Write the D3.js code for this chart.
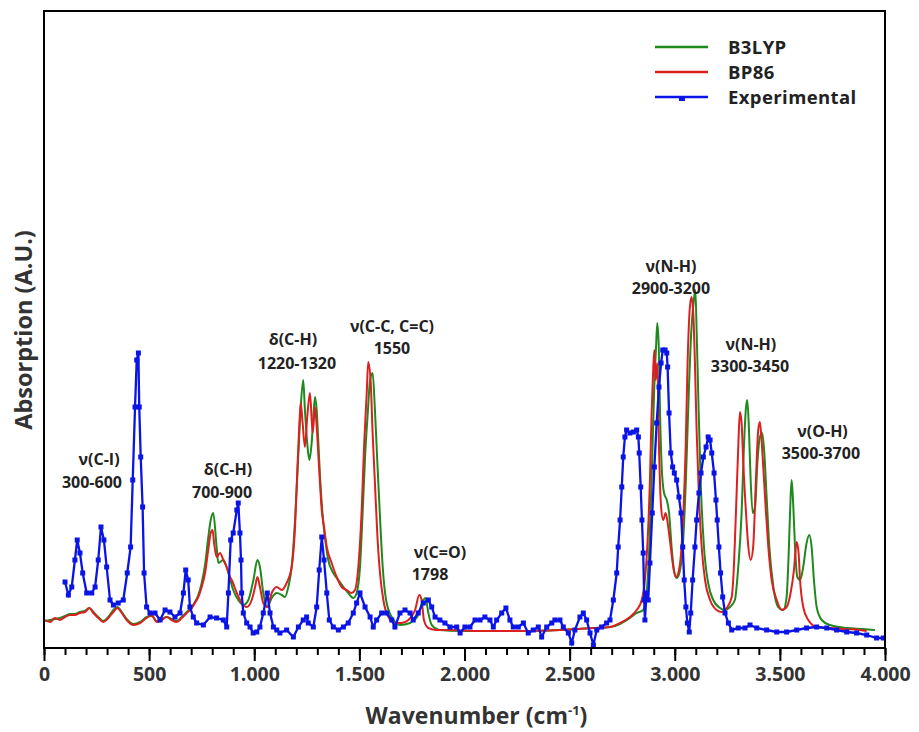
<!DOCTYPE html>
<html>
<head>
<meta charset="utf-8">
<style>
    body { margin: 0; background: #fff; }
    svg { display: block; font-family: 'Open Sans', sans-serif; font-weight: bold; }
</style>
</head>
<body>
<svg id="chart" width="919" height="732"></svg>

<script src="https://d3js.org/d3.v7.min.js"></script>
<script>

// B3LYP (calculated)
let b3lypX = [5, 29, 52, 76, 100, 124, 147, 171, 195, 215, 235, 258, 282, 306, 330, 349, 370, 393, 425, 457, 488, 512, 536, 560, 584, 607, 631, 655, 679, 703, 718, 734, 750, 766, 781, 793, 805, 821, 829, 853, 877, 900, 924, 948, 972, 996, 1015, 1027, 1043, 1062, 1083, 1107, 1131, 1146, 1162, 1178, 1194, 1210, 1221, 1233, 1241, 1252, 1262, 1273, 1281, 1289, 1297, 1305, 1313, 1326, 1336, 1352, 1376, 1400, 1424, 1447, 1471, 1487, 1503, 1516, 1528, 1540, 1551, 1563, 1574, 1585, 1598, 1611, 1627, 1654, 1693, 1741, 1775, 1804, 1815, 1828, 1844, 1883, 1979, 2264, 2454, 2611, 2692, 2740, 2787, 2819, 2850, 2866, 2879, 2890, 2901, 2911, 2917, 2924, 2930, 2938, 2949, 2962, 2973, 2985, 2996, 3009, 3022, 3038, 3053, 3066, 3079, 3091, 3098, 3104, 3112, 3123, 3139, 3159, 3183, 3215, 3239, 3263, 3286, 3302, 3318, 3329, 3339, 3345, 3353, 3361, 3371, 3382, 3393, 3405, 3416, 3426, 3437, 3450, 3469, 3492, 3516, 3532, 3543, 3551, 3556, 3564, 3572, 3583, 3596, 3611, 3627, 3640, 3651, 3662, 3675, 3699, 3738, 3818, 3897, 3952]
let b3lypY = [0.27, 0.28, 0.29, 0.30, 0.32, 0.34, 0.34, 0.36, 0.37, 0.40, 0.36, 0.31, 0.27, 0.31, 0.38, 0.41, 0.36, 0.29, 0.24, 0.26, 0.31, 0.32, 0.27, 0.29, 0.31, 0.29, 0.27, 0.31, 0.36, 0.41, 0.46, 0.53, 0.65, 0.83, 1.10, 1.28, 1.35, 1.01, 0.85, 0.88, 0.75, 0.58, 0.48, 0.43, 0.48, 0.68, 0.88, 0.81, 0.55, 0.41, 0.50, 0.55, 0.53, 0.51, 0.61, 0.81, 1.28, 1.95, 2.41, 2.68, 2.38, 2.05, 1.88, 2.05, 2.31, 2.51, 2.38, 2.05, 1.71, 1.31, 1.11, 0.88, 0.75, 0.68, 0.61, 0.55, 0.50, 0.55, 0.81, 1.38, 1.95, 2.35, 2.68, 2.75, 2.38, 1.88, 1.31, 0.81, 0.48, 0.31, 0.23, 0.25, 0.31, 0.48, 0.50, 0.35, 0.23, 0.18, 0.17, 0.17, 0.18, 0.20, 0.21, 0.24, 0.30, 0.35, 0.38, 0.55, 1.01, 1.68, 2.51, 3.01, 3.25, 3.01, 2.35, 1.81, 1.55, 1.48, 1.35, 1.01, 0.78, 0.70, 0.75, 1.01, 1.68, 2.51, 3.18, 3.48, 3.58, 3.18, 2.51, 1.68, 1.01, 0.65, 0.48, 0.40, 0.38, 0.41, 0.48, 0.81, 1.35, 2.01, 2.41, 2.48, 2.18, 1.68, 1.35, 1.41, 1.85, 2.11, 2.15, 1.95, 1.51, 1.01, 0.61, 0.41, 0.38, 0.51, 1.01, 1.51, 1.68, 1.41, 1.01, 0.71, 0.68, 0.81, 1.05, 1.13, 1.01, 0.68, 0.41, 0.28, 0.23, 0.20, 0.19, 0.18]

// BP86 (calculated)
let bp86X = [5, 29, 52, 76, 100, 124, 147, 171, 195, 215, 235, 258, 282, 306, 330, 349, 370, 393, 425, 457, 488, 512, 536, 560, 584, 607, 631, 655, 679, 703, 718, 734, 750, 766, 781, 793, 802, 809, 821, 837, 853, 869, 885, 893, 917, 940, 964, 988, 1004, 1015, 1027, 1043, 1062, 1083, 1107, 1131, 1154, 1178, 1194, 1205, 1214, 1221, 1230, 1241, 1252, 1265, 1278, 1289, 1297, 1309, 1321, 1332, 1345, 1368, 1392, 1416, 1440, 1463, 1479, 1495, 1511, 1523, 1535, 1542, 1554, 1563, 1574, 1585, 1598, 1614, 1638, 1669, 1701, 1733, 1765, 1785, 1796, 1807, 1828, 1868, 1931, 2074, 2264, 2454, 2611, 2692, 2740, 2787, 2819, 2843, 2858, 2871, 2882, 2890, 2898, 2903, 2909, 2917, 2925, 2935, 2945, 2957, 2969, 2981, 2993, 3006, 3017, 3030, 3041, 3052, 3061, 3072, 3080, 3088, 3096, 3104, 3115, 3128, 3144, 3168, 3199, 3223, 3247, 3271, 3278, 3291, 3302, 3310, 3318, 3326, 3339, 3350, 3361, 3373, 3386, 3397, 3405, 3413, 3421, 3434, 3445, 3461, 3485, 3509, 3532, 3551, 3567, 3580, 3589, 3596, 3611, 3635, 3675, 3738, 3802, 3881, 3913]
let bp86Y = [0.28, 0.26, 0.30, 0.28, 0.31, 0.33, 0.33, 0.35, 0.36, 0.40, 0.35, 0.30, 0.26, 0.30, 0.36, 0.40, 0.35, 0.28, 0.23, 0.25, 0.30, 0.33, 0.26, 0.28, 0.31, 0.28, 0.26, 0.30, 0.35, 0.40, 0.45, 0.51, 0.61, 0.75, 0.98, 1.15, 1.18, 1.05, 0.91, 0.95, 0.88, 0.81, 0.71, 0.68, 0.55, 0.45, 0.41, 0.48, 0.61, 0.71, 0.61, 0.45, 0.41, 0.55, 0.61, 0.58, 0.65, 0.81, 1.21, 1.78, 2.21, 2.45, 2.25, 2.01, 2.31, 2.55, 2.15, 2.41, 2.21, 1.78, 1.38, 1.21, 1.01, 0.85, 0.71, 0.61, 0.58, 0.55, 0.58, 0.81, 1.38, 2.05, 2.55, 2.86, 2.65, 2.15, 1.65, 1.15, 0.75, 0.48, 0.31, 0.25, 0.25, 0.28, 0.38, 0.53, 0.48, 0.28, 0.20, 0.18, 0.18, 0.17, 0.17, 0.18, 0.20, 0.21, 0.25, 0.31, 0.38, 0.48, 0.68, 1.08, 1.68, 2.35, 2.81, 2.98, 2.68, 2.85, 2.01, 1.41, 1.28, 1.35, 1.21, 1.01, 0.81, 0.71, 0.75, 0.95, 1.35, 2.01, 2.85, 3.41, 3.51, 3.35, 2.85, 2.18, 1.51, 1.01, 0.68, 0.48, 0.38, 0.36, 0.40, 0.51, 0.68, 1.35, 2.01, 2.36, 2.25, 1.85, 1.35, 1.01, 0.88, 1.01, 1.68, 2.18, 2.26, 2.08, 1.81, 1.35, 1.01, 0.68, 0.48, 0.38, 0.41, 0.55, 0.78, 1.06, 0.95, 0.68, 0.41, 0.28, 0.21, 0.20, 0.19, 0.18, 0.17]

// Experimental
let expX = [100, 116, 132, 147, 158, 171, 184, 203, 227, 243, 258, 271, 285, 298, 314, 330, 353, 377, 396, 412, 422, 433, 441, 449, 453, 460, 469, 476, 488, 504, 528, 552, 576, 599, 623, 647, 663, 674, 686, 694, 710, 726, 758, 790, 821, 853, 869, 877, 888, 900, 917, 924, 932, 937, 940, 948, 964, 980, 995, 1012, 1027, 1043, 1062, 1075, 1091, 1107, 1122, 1154, 1186, 1210, 1233, 1249, 1257, 1281, 1297, 1309, 1321, 1332, 1345, 1357, 1376, 1400, 1424, 1447, 1471, 1487, 1503, 1527, 1551, 1566, 1582, 1606, 1630, 1654, 1669, 1693, 1717, 1741, 1756, 1780, 1804, 1828, 1844, 1860, 1883, 1907, 1931, 1963, 1979, 2002, 2026, 2050, 2074, 2097, 2121, 2137, 2153, 2177, 2197, 2216, 2232, 2256, 2280, 2303, 2327, 2351, 2367, 2391, 2415, 2430, 2454, 2470, 2494, 2510, 2525, 2549, 2565, 2581, 2597, 2613, 2629, 2652, 2676, 2692, 2708, 2724, 2731, 2740, 2748, 2755, 2763, 2771, 2787, 2803, 2819, 2827, 2831, 2838, 2844, 2850, 2855, 2858, 2866, 2874, 2882, 2893, 2903, 2914, 2925, 2935, 2943, 2954, 2962, 2966, 2973, 2981, 2990, 2998, 3009, 3020, 3030, 3038, 3045, 3053, 3060, 3069, 3076, 3085, 3096, 3104, 3115, 3125, 3136, 3149, 3159, 3168, 3176, 3187, 3196, 3202, 3210, 3218, 3228, 3239, 3255, 3271, 3302, 3334, 3358, 3390, 3437, 3485, 3532, 3580, 3627, 3675, 3723, 3770, 3818, 3865, 3913, 3960, 3992]
let expY = [0.66, 0.53, 0.61, 0.88, 1.08, 0.95, 0.75, 0.55, 0.55, 0.61, 0.88, 1.21, 1.08, 0.81, 0.48, 0.43, 0.45, 0.48, 0.75, 1.01, 1.68, 2.41, 2.88, 2.95, 2.41, 1.91, 1.41, 0.75, 0.41, 0.35, 0.35, 0.28, 0.38, 0.36, 0.31, 0.35, 0.55, 0.78, 0.68, 0.41, 0.31, 0.25, 0.23, 0.31, 0.30, 0.28, 0.21, 0.55, 1.08, 1.15, 1.38, 1.45, 1.15, 0.88, 0.55, 0.35, 0.25, 0.21, 0.15, 0.16, 0.21, 0.35, 0.55, 0.35, 0.21, 0.18, 0.15, 0.18, 0.11, 0.21, 0.28, 0.31, 0.25, 0.21, 0.41, 0.78, 1.11, 0.88, 0.55, 0.28, 0.21, 0.18, 0.21, 0.25, 0.35, 0.45, 0.55, 0.41, 0.31, 0.21, 0.28, 0.35, 0.35, 0.28, 0.21, 0.35, 0.38, 0.35, 0.28, 0.35, 0.45, 0.48, 0.41, 0.31, 0.28, 0.25, 0.21, 0.21, 0.15, 0.21, 0.21, 0.28, 0.28, 0.31, 0.28, 0.21, 0.28, 0.35, 0.40, 0.28, 0.21, 0.21, 0.25, 0.15, 0.18, 0.21, 0.11, 0.21, 0.25, 0.28, 0.28, 0.21, 0.15, 0.05, 0.18, 0.31, 0.35, 0.28, 0.15, 0.03, 0.18, 0.21, 0.25, 0.28, 0.48, 0.75, 1.01, 1.28, 1.61, 1.91, 2.11, 2.18, 2.15, 2.16, 2.18, 2.11, 1.95, 1.61, 1.28, 0.95, 0.48, 0.28, 0.55, 0.48, 0.85, 1.35, 1.81, 2.25, 2.61, 2.85, 2.98, 2.98, 2.95, 2.81, 2.35, 1.95, 1.81, 1.75, 1.68, 1.51, 1.35, 1.01, 0.68, 0.41, 0.25, 0.16, 0.35, 0.68, 1.01, 1.28, 1.55, 1.75, 1.91, 2.01, 2.11, 2.08, 1.95, 1.75, 1.48, 1.28, 1.01, 0.75, 0.51, 0.35, 0.25, 0.18, 0.20, 0.20, 0.23, 0.20, 0.18, 0.16, 0.16, 0.18, 0.20, 0.21, 0.20, 0.18, 0.16, 0.15, 0.13, 0.10, 0.10]

let seriesNames = ["B3LYP", "BP86", "Experimental"]
let seriesColors = ["#1e8a1e", "#dc2020", "#0a14e6"]

let xTicks = [0, 500, 1000, 1500, 2000, 2500, 3000, 3500, 4000]

// peak assignment labels, one entry per text line
let annoText = ["ν(C-I)", "300-600", "δ(C-H)", "700-900", "δ(C-H)", "1220-1320",
    "ν(C-C, C=C)", "1550", "ν(C=O)", "1798", "ν(N-H)", "2900-3200",
    "ν(N-H)", "3300-3450", "ν(O-H)", "3500-3700"]
let annoX = [262, 228, 875, 847, 1184, 1203, 1655, 1655, 1883, 1836, 2982, 2982, 3362, 3358, 3703, 3695]
let annoY = [1.89, 1.66, 1.79, 1.56, 3.09, 2.85, 3.22, 3.00, 0.96, 0.74, 3.82, 3.60, 3.04, 2.82, 2.17, 1.95]


let svg = d3.select("#chart")
let plotL = 44, plotR = 885, plotT = 11, plotB = 648

let x = d3.scaleLinear().domain([0, 4000]).range([plotL, plotR])
let y = d3.scaleLinear().domain([0, 6.37]).range([plotB, plotT])

let fmt = d3.formatLocale({decimal: ",", thousands: ".", grouping: [3], currency: ["", ""]}).format(",")

// minor ticks
svg.append("g")
    .attr("transform", `translate(0,${plotB})`)
    .call(d3.axisBottom(x).tickValues(d3.range(0, 4001, 100)).tickSize(7).tickFormat(""))
    .call(g => g.select(".domain").remove())
    .call(g => g.selectAll("line").attr("stroke", "#000").attr("stroke-width", 2))

// major ticks
svg.append("g")
    .attr("transform", `translate(0,${plotB})`)
    .call(d3.axisBottom(x).tickValues(xTicks).tickSize(13).tickPadding(6).tickFormat(fmt))
    .call(g => g.select(".domain").remove())
    .call(g => g.selectAll("line").attr("stroke", "#000").attr("stroke-width", 2))
    .call(g => g.selectAll("text")
        .attr("font-family", "'Open Sans', sans-serif")
        .attr("font-weight", "bold")
        .attr("font-size", 19.5)
        .attr("fill", "#333"))

let line = d3.line().x(d => x(d[0])).y(d => y(d[1]))

let calc = [
    {pts: d3.zip(b3lypX, b3lypY), color: seriesColors[0]},
    {pts: d3.zip(bp86X, bp86Y), color: seriesColors[1]}
]
calc.forEach(s => {
    svg.append("path")
        .attr("d", line.curve(d3.curveMonotoneX)(s.pts))
        .attr("fill", "none")
        .attr("stroke", s.color)
        .attr("stroke-width", 2)
})

let expPts = d3.zip(expX, expY)
svg.append("path")
    .attr("d", line.curve(d3.curveLinear)(expPts))
    .attr("fill", "none")
    .attr("stroke", seriesColors[2])
    .attr("stroke-width", 2.3)

svg.append("g")
    .selectAll("rect")
    .data(expPts)
    .join("rect")
    .attr("x", d => x(d[0]) - 2.5)
    .attr("y", d => y(d[1]) - 2.5)
    .attr("width", 5)
    .attr("height", 5)
    .attr("fill", seriesColors[2])

// frame
svg.append("rect")
    .attr("x", plotL).attr("y", plotT)
    .attr("width", plotR - plotL).attr("height", plotB - plotT)
    .attr("fill", "none")
    .attr("stroke", "#000")
    .attr("stroke-width", 2)

// labels
svg.append("g")
    .selectAll("text")
    .data(annoText)
    .join("text")
    .attr("x", (d, i) => x(annoX[i]))
    .attr("y", (d, i) => y(annoY[i]))
    .attr("dy", "0.36em")
    .attr("text-anchor", "middle")
    .attr("font-size", 16)
    .attr("fill", "#222")
    .text(d => d)

// axis titles
let xt = svg.append("text")
    .attr("x", (plotL + plotR) / 2 + 12)
    .attr("y", 724)
    .attr("text-anchor", "middle")
    .attr("font-size", 23)
    .attr("fill", "#333")
xt.append("tspan").text("Wavenumber (cm")
xt.append("tspan").attr("font-size", 13).attr("dy", -9).text("-1")
xt.append("tspan").attr("dy", 9).text(")")

svg.append("text")
    .attr("transform", "translate(32,330) rotate(-90)")
    .attr("text-anchor", "middle")
    .attr("font-size", 23.5)
    .attr("fill", "#333")
    .text("Absorption (A.U.)")

// legend
let legend = svg.append("g")
seriesNames.forEach((name, i) => {
    let ly = 47 + i * 25
    legend.append("line")
        .attr("x1", 655).attr("x2", 708)
        .attr("y1", ly).attr("y2", ly)
        .attr("stroke", seriesColors[i])
        .attr("stroke-width", 2.5)
    if (i == 2) {
        legend.append("rect")
            .attr("x", 679).attr("y", ly).attr("width", 6).attr("height", 4)
            .attr("fill", seriesColors[i])
    }
    legend.append("text")
        .attr("x", 728).attr("y", ly)
        .attr("dy", "0.36em")
        .attr("font-size", 18.5)
        .attr("letter-spacing", 0.4)
        .attr("fill", "#222")
        .text(name)
})

</script>
</body>
</html>
